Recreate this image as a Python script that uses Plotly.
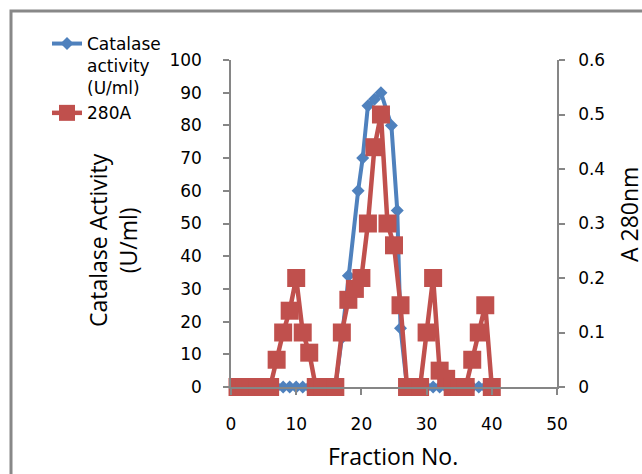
import plotly.graph_objects as go

# ---- data ----
catalase_fraction = list(range(1, 17)) + [17, 18, 19.5, 20.2, 21, 22, 23, 24.6, 25.5, 26] + list(range(27, 41))
catalase_activity = [0] * 16 + [15, 34, 60, 70, 86, 88, 90, 80, 54, 18] + [0] * 14

a280_fraction = list(range(1, 41))
a280_values = [0, 0, 0, 0, 0, 0, 0.05, 0.10, 0.14, 0.20,
               0.10, 0.063, 0, 0, 0, 0, 0.10, 0.16, 0.18, 0.20,
               0.30, 0.44, 0.50, 0.30, 0.26, 0.15, 0, 0, 0, 0.10,
               0.20, 0.03, 0.015, 0, 0, 0, 0.05, 0.10, 0.15, 0]

x_ticks = [0, 10, 20, 30, 40, 50]
y_ticks = [0, 10, 20, 30, 40, 50, 60, 70, 80, 90, 100]
y2_ticks = [0, 0.1, 0.2, 0.3, 0.4, 0.5, 0.6]

BLUE = "#4F81BD"
RED = "#C0504D"
AXIS = "#868686"

W, H = 642, 474
ML, MR, MT, MB = 231, 85, 60, 87
PW, PH = W - ML - MR, H - MT - MB


def px_x(p):
    return (p - ML) / PW


def px_y(p):
    return (H - MB - p) / PH


fig = go.Figure()
fig.add_trace(go.Scatter(
    x=catalase_fraction, y=catalase_activity, name="Catalase<br>activity<br>(U/ml)",
    mode="lines+markers", line=dict(color=BLUE, width=4),
    marker=dict(symbol="diamond", size=10, color=BLUE),
    cliponaxis=False, yaxis="y"))
fig.add_trace(go.Scatter(
    x=a280_fraction, y=a280_values, name="280A",
    mode="lines+markers", line=dict(color=RED, width=4.5),
    marker=dict(symbol="square", size=18, color=RED),
    cliponaxis=False, yaxis="y2"))

tickfont = dict(family="DejaVu Sans", size=17, color="black")
title_font = dict(family="Open Sans", size=23, color="black")

fig.update_layout(
    width=W, height=H,
    margin=dict(l=ML, r=MR, t=MT, b=MB, pad=0),
    paper_bgcolor="white", plot_bgcolor="white",
    showlegend=True,
    legend=dict(x=px_x(47), y=px_y(26), xanchor="left", yanchor="top",
                bgcolor="rgba(0,0,0,0)", font=dict(family="DejaVu Sans", size=17, color="black"),
                valign="top", itemsizing="trace"),
    xaxis=dict(range=[0, 50], tickvals=x_ticks, showgrid=False, zeroline=False,
               showline=True, linecolor=AXIS, linewidth=1.5,
               ticks="outside", ticklen=6, tickcolor=AXIS, tickwidth=1.5,
               tickfont=tickfont, ticklabelstandoff=15),
    yaxis=dict(range=[0, 100], tickvals=y_ticks, showgrid=False, zeroline=False,
               showline=True, linecolor=AXIS, linewidth=1.5,
               ticks="outside", ticklen=6, tickcolor=AXIS, tickwidth=1.5,
               tickfont=tickfont, ticklabelstandoff=18),
    yaxis2=dict(range=[0, 0.6], tickvals=y2_ticks, overlaying="y", side="right",
                showgrid=False, zeroline=False,
                showline=True, linecolor=AXIS, linewidth=1.5,
                ticks="outside", ticklen=6, tickcolor=AXIS, tickwidth=1.5,
                tickfont=tickfont, ticklabelstandoff=10),
    annotations=[
        dict(text="Fraction No.", xref="paper", yref="paper", x=px_x(393), y=px_y(456),
             showarrow=False, font=title_font, xanchor="center", yanchor="middle"),
        dict(text="Catalase Activity<br>(U/ml)", xref="paper", yref="paper", x=px_x(113), y=px_y(240),
             showarrow=False, font=title_font, textangle=-90, xanchor="center", yanchor="middle"),
        dict(text="A 280nm", xref="paper", yref="paper", x=px_x(629), y=px_y(215),
             showarrow=False, font=title_font, textangle=-90, xanchor="center", yanchor="middle"),
    ],
    shapes=[
        dict(type="rect", xref="paper", yref="paper", x0=px_x(11), y0=px_y(490), x1=px_x(660), y1=px_y(11),
             line=dict(color="#888888", width=3), fillcolor="rgba(0,0,0,0)", layer="below"),
    ],
)

fig.write_html("out.html", config={"displayModeBar": False},
               post_script="document.body.style.margin='0px';document.body.style.overflow='hidden';")
